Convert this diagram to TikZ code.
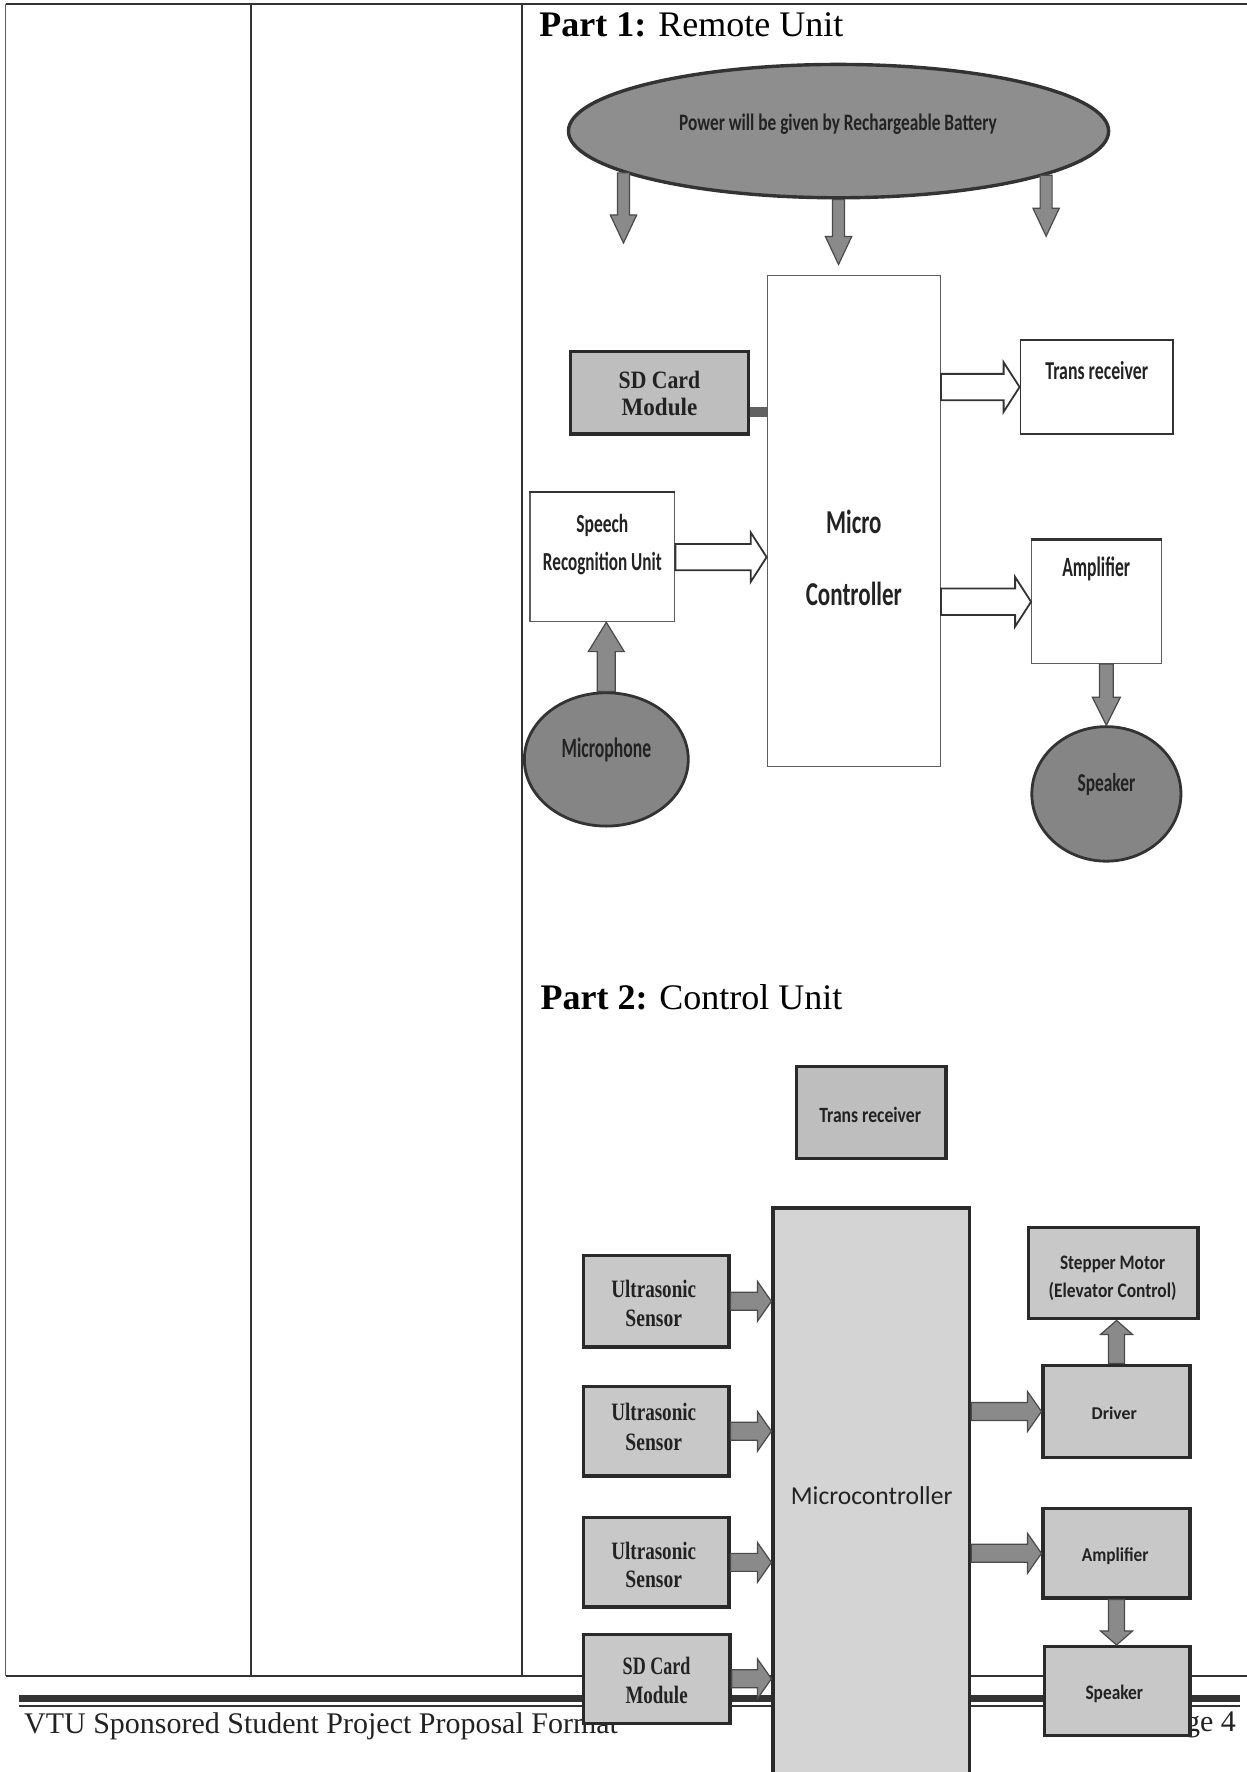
\documentclass[tikz,border=0pt]{standalone}
\usepackage{fontspec}
\setmainfont{Liberation Serif}
\newfontfamily\carlito{Carlito}
\usetikzlibrary{calc,fit,shapes.geometric}
\definecolor{ink}{HTML}{222222}
\definecolor{rule}{HTML}{333333}
\definecolor{darkedge}{HTML}{2A2A2A}
\definecolor{thinedge}{HTML}{5E5E5E}
\definecolor{ellfill}{HTML}{8E8E8E}
\definecolor{circfill}{HTML}{858585}
\definecolor{arrfill}{HTML}{8A8A8A}
\definecolor{arredge}{HTML}{4A4A4A}
\definecolor{sdfill}{HTML}{BEBEBE}
\definecolor{boxfill}{HTML}{C8C8C8}
\definecolor{mcfill}{HTML}{D4D4D4}
\definecolor{linkfill}{HTML}{616161}
\newcommand\fitw[2]{\resizebox{#1}{\height}{#2}}
\newcommand\fs[1]{\fontsize{#1}{#1}\selectfont}
\tikzset{
  blk/.style n args={3}{to path={
    ($(\tikztostart)!#1!90:(\tikztotarget)$)
    -- ($($(\tikztotarget)!#3!(\tikztostart)$)!#1!90:(\tikztotarget)$)
    -- ($($(\tikztotarget)!#3!(\tikztostart)$)!#2!90:(\tikztotarget)$)
    -- (\tikztotarget)
    -- ($($(\tikztotarget)!#3!(\tikztostart)$)!#2!-90:(\tikztotarget)$)
    -- ($($(\tikztotarget)!#3!(\tikztostart)$)!#1!-90:(\tikztotarget)$)
    -- ($(\tikztostart)!#1!-90:(\tikztotarget)$)
    -- cycle}},
  grey/.style={fill=arrfill, draw=arredge, line width=0.6pt, line join=miter},
  battarrow/.style={grey, blk={3pt}{6.6pt}{14pt}},
  micarrow/.style={grey, blk={4.5pt}{9pt}{14.7pt}},
  spkarrow/.style={grey, blk={3.4pt}{7pt}{14pt}},
  harrow/.style={grey, blk={4.5pt}{10pt}{7pt}},
  varrow/.style={grey, blk={4pt}{8pt}{7pt}},
  hollow/.style={blk={6.6pt}{12.4pt}{8pt}, draw=rule, fill=white, line width=0.9pt, line join=miter},
  wbox/.style={rectangle, inner sep=0pt, draw=thinedge, fill=white, line width=0.7pt},
  gbox/.style={rectangle, inner sep=0pt, draw=darkedge, fill=boxfill, line width=1.6pt},
  blob/.style={ellipse, inner sep=0pt, draw=rule, line width=1.4pt},
  lbl/.style={inner sep=0pt, anchor=base, text=ink},
  tabrule/.style={draw=rule, line width=0.8pt}
}
\begin{document}
\begin{tikzpicture}[x=0.5653pt,y=-0.5653pt]
\useasboundingbox (0,0) rectangle (1103,1568);
\fill[white] (0,0) rectangle (1103,1568);

% table of the page
\draw[tabrule] (5,3.5) -- (1103,3.5);
\draw[tabrule] (5,1483) -- (1103,1483);
\draw[tabrule, draw=thinedge] (5,3.5) -- (5,1483);
\draw[tabrule] (222,3.5) -- (222,1483);
\draw[tabrule] (462,3.5) -- (462,1483);

% footer
\draw[draw=rule, line width=3.4pt] (17,1503) -- (1097,1503);
\draw[draw=rule, line width=0.7pt] (17,1509.5) -- (1097,1509.5);
\node[inner sep=0pt, anchor=base west, font=\fs{15pt}, text=ink] (foot) at (21,1534) {VTU Sponsored Student Project Proposal Format};
\node[inner sep=0pt, anchor=base east, font=\fs{15pt}, text=ink] (page) at (1094,1532) {Page 4};

% ---------------- Part 1 ----------------
\node[inner sep=0pt, anchor=base west, font=\fs{18pt}, text=black] (h1) at (477,32) {\textbf{Part 1:} Remote Unit};

\node[blob, fill=ellfill, line width=1.7pt, minimum width=270.2pt, minimum height=66.7pt] (bat) at (742,116) {};
\node[wbox, fit={(679,244) (832,678)}] (mc1) {};
\node[gbox, fill=sdfill, fit={(505,311) (662,384)}] (sd1) {};
\node[wbox, draw=rule, line width=0.9pt, fit={(903,301) (1038,384)}] (tr1) {};
\node[wbox, fit={(469,436) (597,550)}] (sr) {};
\draw[draw=rule, line width=1.3pt] (sr.north west) -- (sr.north east);
\node[wbox, fit={(913,478) (1028,587)}] (amp1) {};
\draw[draw=rule, line width=1.3pt] (amp1.north west) -- (amp1.north east);
\node[blob, fill=circfill, minimum width=82pt, minimum height=66.7pt] (mic) at (536.5,672) {};
\node[blob, fill=circfill, minimum width=74.6pt, minimum height=67.3pt] (spk1) at (979,702.5) {};

\coordinate (e1) at (559,215);
\coordinate (e2) at (741,234);
\coordinate (e3) at (928,209);
\draw[battarrow] (bat.191.7) to (bat.191.7 |- e1);
\draw[battarrow] (bat.south) to (bat.south |- e2);
\draw[battarrow] (bat.348.75) to (bat.348.75 |- e3);

\coordinate (sdc) at ($(sd1.south east)!0.27!(sd1.north east)$);
\draw[draw=linkfill, line width=5pt] (sdc) -- (sdc -| mc1.west);
\draw[hollow] (mc1.east |- tr1.west) to (tr1.west);
\draw[hollow] (sr.east) to (sr.east -| mc1.west);
\draw[hollow] (mc1.east |- amp1.west) to (amp1.west);
\draw[micarrow] (mic.north) to (mic.north |- sr.south);
\draw[spkarrow] (spk1.north |- amp1.south) to (spk1.north);

\node[lbl, font={\carlito\bfseries\fs{11.8pt}}] (l-bat) at (741.5,115.7) {\fitw{158.9pt}{Power will be given by Rechargeable Battery}};
\node[lbl, font={\bfseries\fs{12.5pt}}] (l-sd1a) at (583.5,343.5) {\fitw{40.7pt}{SD Card}};
\node[lbl, font={\bfseries\fs{12.5pt}}] (l-sd1b) at (583.5,367.5) {\fitw{37.9pt}{Module}};
\node[lbl, font={\carlito\bfseries\fs{12.9pt}}] (l-tr1) at (970.5,336) {\fitw{51.4pt}{Trans receiver}};
\node[lbl, font={\carlito\bfseries\fs{13pt}}] (l-sra) at (533,471.5) {\fitw{26pt}{Speech}};
\node[lbl, font={\carlito\bfseries\fs{13pt}}] (l-srb) at (533,504.5) {\fitw{59.4pt}{Recognition Unit}};
\node[lbl, font={\carlito\bfseries\fs{16.7pt}}] (l-mc1a) at (755.5,472.5) {\fitw{27.7pt}{Micro}};
\node[lbl, font={\carlito\bfseries\fs{16.7pt}}] (l-mc1b) at (755.5,535.5) {\fitw{48pt}{Controller}};
\node[lbl, font={\carlito\bfseries\fs{14pt}}] (l-amp1) at (970,510) {\fitw{33.9pt}{Amplifier}};
\node[lbl, font={\carlito\bfseries\fs{14pt}}] (l-mic) at (536.6,670.6) {\fitw{44.7pt}{Microphone}};
\node[lbl, font={\carlito\bfseries\fs{12.9pt}}] (l-spk1) at (979,700) {\fitw{28.8pt}{Speaker}};

% ---------------- Part 2 ----------------
\node[inner sep=0pt, anchor=base west, font=\fs{18pt}, text=black] (h2) at (478,893) {\textbf{Part 2:} Control Unit};

\node[gbox, fill=boxfill!95!black, fit={(705,944) (837,1025)}] (tr2) {};
\node[gbox, fill=mcfill, fit={(684,1069) (858,1600)}] (mc2) {};
\node[gbox, fit={(910,1086) (1060,1167)}] (stp) {};
\node[gbox, fit={(516,1111) (645,1192)}] (us1) {};
\node[gbox, fit={(516,1227) (645,1306)}] (us2) {};
\node[gbox, fit={(516,1343) (645,1422)}] (us3) {};
\node[gbox, fit={(516,1446) (646,1525)}] (sd2) {};
\node[gbox, fit={(923,1208) (1053,1290)}] (drv) {};
\node[gbox, fit={(923,1335) (1053,1414)}] (amp2) {};
\node[gbox, fit={(924,1457) (1053,1536)}] (spk2) {};

\draw[harrow] (us1.east) to (us1.east -| mc2.west);
\draw[harrow] (us2.east) to (us2.east -| mc2.west);
\draw[harrow] (us3.east) to (us3.east -| mc2.west);
\draw[harrow] (sd2.east) to (sd2.east -| mc2.west);
\draw[harrow] (mc2.east |- drv.west) to (drv.west);
\draw[harrow] (mc2.east |- amp2.west) to (amp2.west);
\draw[varrow] (drv.north) to (drv.north |- stp.south);
\draw[varrow] (amp2.south) to (amp2.south |- spk2.north);

\node[lbl, font={\carlito\bfseries\fs{10.9pt}}] (l-tr2) at (770,993) {\fitw{50.9pt}{Trans receiver}};
\node[lbl, font={\carlito\fs{12.9pt}}] (l-mc2) at (771.3,1331) {\fitw{80.8pt}{Microcontroller}};
\node[lbl, font={\carlito\bfseries\fs{10.3pt}}] (l-stpa) at (984.5,1123) {\fitw{52.6pt}{Stepper Motor}};
\node[lbl, font={\carlito\bfseries\fs{10.3pt}}] (l-stpb) at (984.5,1148) {\fitw{63.9pt}{(Elevator Control)}};
\node[lbl, font={\bfseries\fs{12.5pt}}] (l-us1a) at (578.5,1148.5) {\fitw{42.4pt}{Ultrasonic}};
\node[lbl, font={\bfseries\fs{12.5pt}}] (l-us1b) at (578.5,1174) {\fitw{28.3pt}{Sensor}};
\node[lbl, font={\bfseries\fs{12.5pt}}] (l-us2a) at (578.5,1257) {\fitw{42.4pt}{Ultrasonic}};
\node[lbl, font={\bfseries\fs{12.5pt}}] (l-us2b) at (578.5,1283.5) {\fitw{28.3pt}{Sensor}};
\node[lbl, font={\bfseries\fs{12.5pt}}] (l-us3a) at (578.5,1380) {\fitw{42.4pt}{Ultrasonic}};
\node[lbl, font={\bfseries\fs{12.5pt}}] (l-us3b) at (578.5,1405) {\fitw{28.3pt}{Sensor}};
\node[lbl, font={\bfseries\fs{12.5pt}}] (l-sd2a) at (581,1481.5) {\fitw{33.9pt}{SD Card}};
\node[lbl, font={\bfseries\fs{12.5pt}}] (l-sd2b) at (581,1507) {\fitw{31.1pt}{Module}};
\node[lbl, font={\carlito\bfseries\fs{9pt}}] (l-drv) at (986,1256) {\fitw{22.6pt}{Driver}};
\node[lbl, font={\carlito\bfseries\fs{9.8pt}}] (l-amp2) at (986.8,1382) {\fitw{33.4pt}{Amplifier}};
\node[lbl, font={\carlito\bfseries\fs{10.3pt}}] (l-spk2) at (986,1503.4) {\fitw{28.8pt}{Speaker}};
\end{tikzpicture}
\end{document}
